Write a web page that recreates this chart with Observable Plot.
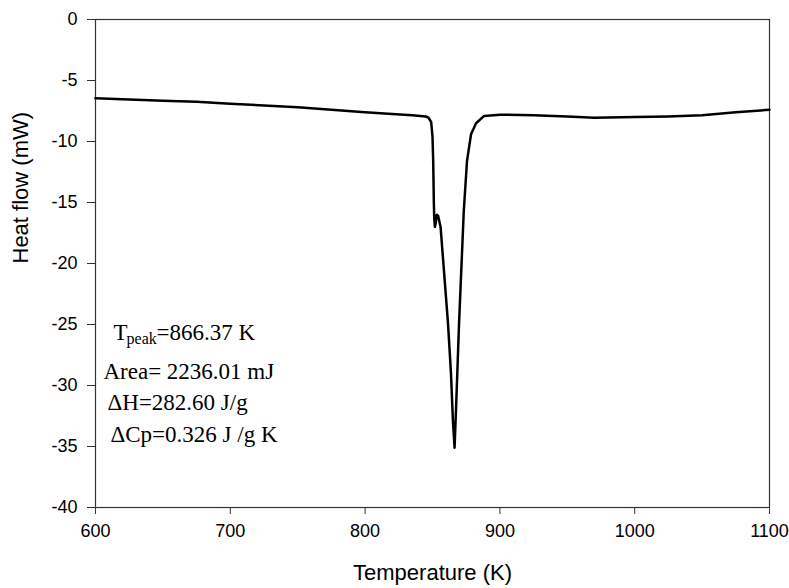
<!DOCTYPE html>
<html>
<head>
<meta charset="utf-8">
<script src="https://cdn.jsdelivr.net/npm/d3@7"></script>
<script src="https://cdn.jsdelivr.net/npm/@observablehq/plot@0.6"></script>
<style>
  body { margin: 0; background: #fff; }
  #chart svg { display: block; }
</style>
</head>
<body>
<div id="chart"></div>
<script>
// Temperature (K)
const temperature = [600, 625, 650, 675, 700, 725, 750, 775, 800, 820, 835, 845, 847, 849, 850, 850.5, 851, 851.3, 851.8, 852.5, 853.2, 854.2, 856, 858.5, 861.5, 863.7, 865.2, 866.37, 867.5, 869.7, 873.2, 875.6, 878.6, 882.3, 888.3, 900, 925, 950, 970, 1000, 1025, 1050, 1075, 1100];
// Heat flow (mW)
const heatFlow = [-6.45, -6.55, -6.65, -6.75, -6.9, -7.05, -7.2, -7.4, -7.6, -7.75, -7.85, -7.95, -8.05, -8.4, -9.6, -11.5, -15, -16.3, -17.0, -16.6, -16.0, -16.1, -17, -20.6, -24.9, -29, -33, -35.1, -31.8, -24.9, -15.7, -11.6, -9.4, -8.5, -7.9, -7.8, -7.85, -7.95, -8.05, -8.0, -7.95, -7.85, -7.6, -7.4];

const xTicks = [600, 700, 800, 900, 1000, 1100];
const yTicks = [0, -5, -10, -15, -20, -25, -30, -35, -40];

const annotLines = ["Area= 2236.01 mJ", "\u0394H=282.60 J/g", "\u0394Cp=0.326 J /g K"];
const annotX = [605.9, 608.9, 611.1];
const annotY = [-28.85, -31.4, -34.0];

const data = temperature.map((t, i) => ({t, h: heatFlow[i]}));
const annot = annotLines.map((s, i) => ({s, x: annotX[i], y: annotY[i]}));

const serif = "Liberation Serif, Times New Roman, serif";
const sans = "Liberation Sans, Arial, sans-serif";

const chart = Plot.plot({
  width: 789,
  height: 588,
  marginLeft: 95,
  marginRight: 20,
  marginTop: 19,
  marginBottom: 81,
  style: {fontFamily: sans, fontSize: "18px", color: "#000", background: "#fff"},
  x: {domain: [600, 1100], ticks: xTicks, label: null},
  y: {domain: [-40, 0], ticks: yTicks, label: null},
  marks: [
    Plot.frame({stroke: "#333", strokeWidth: 1.2}),
    Plot.axisX({ticks: xTicks, tickSize: 7, tickPadding: 10, fontSize: 18, label: null, stroke: "#333", tickFormat: d => String(d)}),
    Plot.axisY({ticks: yTicks, tickSize: 8, tickPadding: 10, fontSize: 18, label: null, stroke: "#333", tickFormat: d => String(d)}),
    Plot.line(data, {x: "t", y: "h", stroke: "#000", strokeWidth: 2.5, curve: "linear"}),
    Plot.text(["T"], {x: () => 613.4, y: () => -25.7, text: d => d, textAnchor: "start", fontFamily: serif, fontSize: 23}),
    Plot.text(["peak"], {x: () => 613.4, y: () => -25.7, text: d => d, textAnchor: "start", dx: 13, dy: 6, fontFamily: serif, fontSize: 16}),
    Plot.text(["=866.37 K"], {x: () => 613.4, y: () => -25.7, text: d => d, textAnchor: "start", dx: 43, fontFamily: serif, fontSize: 23}),
    Plot.text(annot, {x: "x", y: "y", text: "s", textAnchor: "start", fontFamily: serif, fontSize: 23}),
    Plot.text(["Temperature (K)"], {frameAnchor: "bottom", text: d => d, dy: 72, fontSize: 22, fontFamily: sans}),
    Plot.text(["Heat flow (mW)"], {frameAnchor: "left", text: d => d, rotate: -90, dx: -75, fontSize: 22, fontFamily: sans})
  ]
});
document.getElementById("chart").appendChild(chart);
</script>
</body>
</html>
